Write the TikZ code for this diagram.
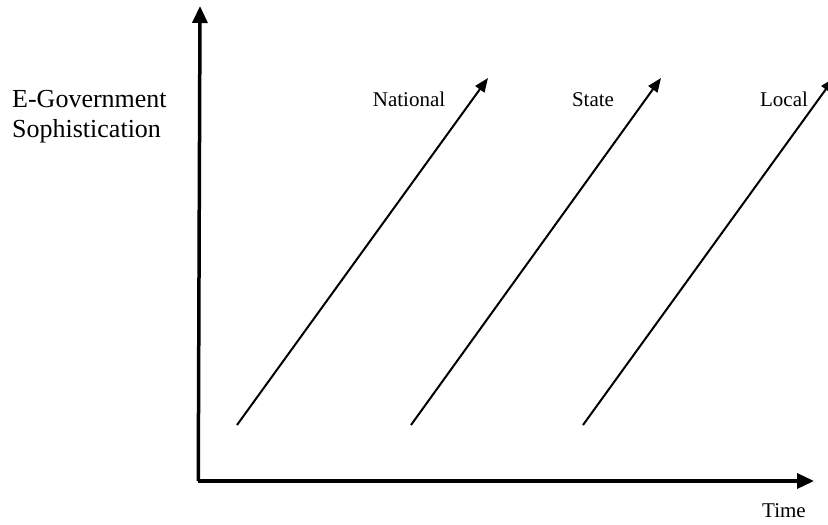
\documentclass[tikz,border=0pt]{standalone}
\usepackage{fontspec}
\setmainfont{Liberation Serif}
\usetikzlibrary{arrows.meta}

\begin{document}
\begin{tikzpicture}[
            x=1pt, y=-1pt,
            axis/.style={line width=3.5pt, -{Triangle[length=17pt,width=15pt]}},
            trend/.style={line width=2pt, -{Triangle[length=14pt,width=11pt]}},
            label/.style={inner sep=0pt, font=\fontsize{21}{25}\selectfont},
            axislabel/.style={inner sep=0pt, align=left, font=\fontsize{26}{30}\selectfont}
        ]
        \useasboundingbox (0,0) rectangle (828,525);

        \coordinate (origin) at (200,481);
        \coordinate (ytop) at (200,6);
        \coordinate (xend) at (814,481);

        \coordinate (natstart) at (237,425);
        \coordinate (natend) at (488,78);
        \coordinate (statestart) at (411,425);
        \coordinate (stateend) at (661,78);
        \coordinate (localstart) at (583,425);
        \coordinate (localend) at (834,78);

        \node[axislabel, anchor=north west] (soph) at (12,90) {E-Government\\Sophistication};
        \node[label, anchor=base] (time) at (784,517) {Time};

        \node[label, anchor=base] (national) at (409,106) {National};
        \node[label, anchor=base] (state) at (593,106) {State};
        \node[label, anchor=base] (local) at (784,106) {Local};

        \draw[axis] ([xshift=-1.75pt]origin) -- (ytop);
        \draw[axis] ([xshift=-1.75pt]origin) -- (xend);

        \draw[trend] (natstart) -- (natend);
        \draw[trend] (statestart) -- (stateend);
        \draw[trend] (localstart) -- (localend);
\end{tikzpicture}
\end{document}
